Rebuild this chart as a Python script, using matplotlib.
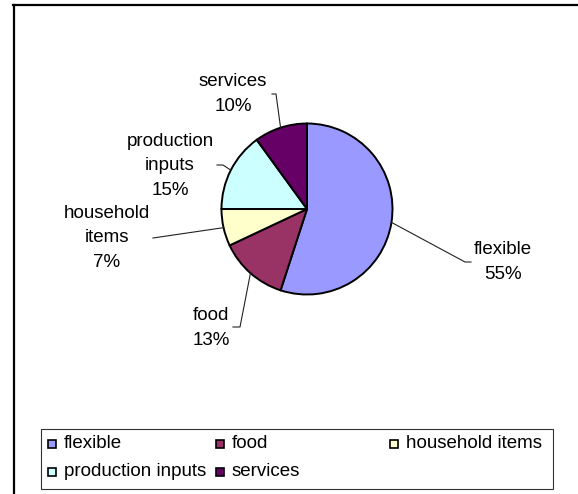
import numpy as np
import matplotlib.pyplot as plt
from matplotlib.patches import Rectangle

plt.rcParams['font.family'] = ['Liberation Sans', 'DejaVu Sans']

# Shares of spending by category (percent)
categories = ['flexible', 'food', 'household items', 'production inputs', 'services']
shares = [55, 13, 7, 15, 10]
label_names = ['flexible', 'food', 'household\nitems', 'production\ninputs', 'services']
colors = ['#9999FF', '#993366', '#FFFFCC', '#CCFFFF', '#660066']

W, H = 578, 494

# label centre and leader elbow points, in pixels from top-left
label_pos = [(503, 262), (211, 328), (107, 238), (170, 166), (233, 94)]
leader_pts = [[(465, 262), (471, 262)],
              [(240, 327), (233, 327)],
              [(153, 238)],
              [(223, 165), (217, 165)],
              [(276, 94), (272, 94)]]

fig = plt.figure(figsize=(W / 100, H / 100), dpi=100)
ax = fig.add_axes([0, 0, 1, 1])

cx, cy, r = 307, H - 209, 85.5
wedges, _ = ax.pie(shares, colors=colors, startangle=90, counterclock=False,
                   center=(cx, cy), radius=r,
                   wedgeprops=dict(edgecolor='black', linewidth=1.4))

ax.set_xlim(0, W)
ax.set_ylim(0, H)
ax.set_aspect('equal')
ax.axis('off')

# data labels with leader lines
for w, name, pct, (lx, ly), pts in zip(wedges, label_names, shares, label_pos, leader_pts):
    mid = np.deg2rad((w.theta1 + w.theta2) / 2)
    ex, ey = cx + r * np.cos(mid), cy + r * np.sin(mid)
    xs = [ex] + [p[0] for p in pts]
    ys = [ey] + [H - p[1] for p in pts]
    ax.plot(xs, ys, color='#222222', linewidth=0.8)
    ax.text(lx, H - ly, f'{name}\n{pct}%', ha='center', va='center',
            fontsize=13.5, linespacing=1.55, color='black')

# chart area border (top and left edges)
ax.plot([12.5, W], [H - 5.5, H - 5.5], color='black', linewidth=1.6, clip_on=False)
ax.plot([13.5, 13.5], [H - 5.5, 0], color='black', linewidth=1.6, clip_on=False)

# legend box
ax.add_patch(Rectangle((40.7, H - 489), 553 - 40.7, 489 - 429.3,
                       facecolor='white', edgecolor='#333333', linewidth=0.8))
legend_slots = [(52, 444), (220, 444), (394, 444), (52, 472), (220, 472)]
for name, col, (mx, my) in zip(categories, colors, legend_slots):
    ax.add_patch(Rectangle((mx - 3.75, H - my - 3.75), 7.5, 7.5, facecolor=col,
                           edgecolor='black', linewidth=1.2))
    ax.text(mx + 12, H - my, name, ha='left', va='center', fontsize=13.5)

fig.savefig('out.png', dpi=100)
